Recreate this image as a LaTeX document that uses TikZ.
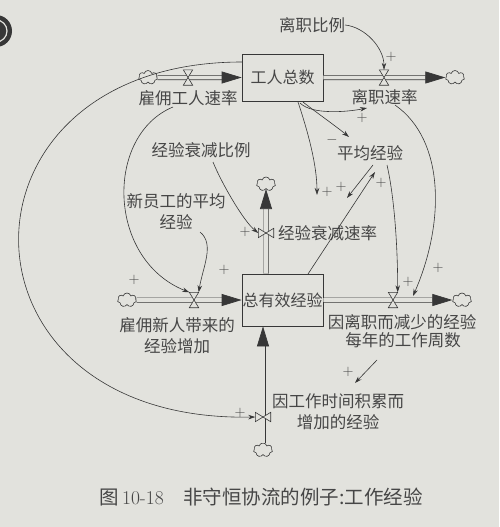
\documentclass[tikz,border=0pt]{standalone}
\usepackage{fontspec}
\newfontfamily\cjk{Noto Sans CJK SC}
\usetikzlibrary{arrows.meta,shapes.symbols}
\definecolor{paper}{RGB}{226,226,221}
\definecolor{ink}{RGB}{55,55,55}
\definecolor{txt}{RGB}{70,70,70}

\begin{document}
\begin{tikzpicture}[
  x=1pt, y=-1pt,
  stock/.style={draw=ink, line width=0.7pt, inner sep=0pt, fill=paper,
    font=\cjk\fontsize{16}{20}\selectfont, text=txt},
  lab/.style={inner sep=0pt, align=center, text=txt,
    font=\cjk\fontsize{16.5}{21}\selectfont},
  sky/.style={cloud, cloud puffs=7, cloud ignores aspect, draw=ink,
    line width=0.6pt, minimum width=19pt, minimum height=14pt, inner sep=0pt},
  valve/.style={minimum width=9pt, minimum height=15pt, inner sep=0pt},
  vvalve/.style={minimum width=15pt, minimum height=9pt, inner sep=0pt},
  pipe/.style={draw=ink, line width=0.7pt, double=paper, double distance=3.6pt,
    -{Triangle[length=20pt,width=12pt]}},
  arr/.style={draw=ink, line width=0.6pt, -{Stealth[length=7pt,width=4.5pt]}},
  sgn/.style={inner sep=0pt, text=txt, font=\fontsize{13.5}{13.5}\selectfont}
]
\useasboundingbox (0,0) rectangle (499,527);
\fill[paper] (0,0) rectangle (499,527);
\fill[ink] (-4,31) circle (16pt);
\draw[paper, line width=1.2pt] (-4,31) circle (11pt);

\node[stock, minimum width=81pt, minimum height=47pt] (workers) at (282.5,77.5) {工人总数};
\node[stock, minimum width=81pt, minimum height=52pt] (exper) at (282.5,300) {总有效经验};

\node[sky] (src1) at (148,77.5) {};
\node[sky] (snk1) at (455,77.5) {};
\node[sky] (src2) at (127,300) {};
\node[sky] (snk2) at (462,300) {};
\node[sky] (snk3) at (266,184) {};
\node[sky] (src3) at (263,450) {};

\node[valve] (hire) at (188,77.5) {};
\node[valve] (quit) at (384,77.5) {};
\node[valve] (gainhire) at (194,300) {};
\node[valve] (lossquit) at (393,300) {};
\node[vvalve] (decay) at (266,233) {};
\node[vvalve] (gainwork) at (263,417) {};

\draw[pipe] (src1) -- (workers);
\draw[pipe] (workers) -- (snk1);
\draw[pipe] (src2) -- (exper);
\draw[pipe] (exper) -- (snk2);
\draw[pipe] (exper.north -| snk3) -- (snk3);
\draw[pipe] (src3) -- (exper.south -| src3);

\foreach \v in {hire,quit,gainhire,lossquit}
  \draw[ink, line width=0.6pt, fill=paper] (\v.north west) -- (\v.north east)
    -- (\v.south west) -- (\v.south east) -- cycle;
\foreach \v in {decay,gainwork}
  \draw[ink, line width=0.6pt, fill=paper] (\v.north west) -- (\v.south west)
    -- (\v.north east) -- (\v.south east) -- cycle;

\node[lab] (hirerate) at (188,98) {雇佣工人速率};
\node[lab] (quitrate) at (384.5,97) {离职速率};
\node[lab] (quitfrac) at (312,25) {离职比例};
\node[lab] (decayfrac) at (201,150) {经验衰减比例};
\node[lab] (avgexp) at (370,153) {平均经验};
\node[lab] (newexp) at (176,212) {新员工的平均\\经验};
\node[lab] (decayrate) at (327.5,233) {经验衰减速率};
\node[lab] (hireexp) at (177,336) {雇佣新人带来的\\经验增加};
\node[lab] (lossexp) at (402,322) {因离职而减少的经验};
\node[lab] (weeks) at (403,340) {每年的工作周数};
\node[lab] (workexp) at (338,412) {因工作时间积累而\\增加的经验};

\coordinate (tipa) at (317,195);
\coordinate (tipb) at (347,198);
\coordinate (tipc) at (355,383);

\draw[arr] ([shift={(33,0)}]quitfrac.center) .. controls +(20,2) and +(0,-22) .. (quit.north);
\draw[arr] ([shift={(17.5,25.5)}]workers.center) .. controls +(12,12) and +(-20,4) .. ([shift={(-17.5,11)}]quitrate.center);
\draw[arr] ([shift={(20.5,24.5)}]workers.center) .. controls +(10,8) and +(-12,-10) .. ([shift={(-21,-16)}]avgexp.center);
\draw[arr] ([shift={(15.5,24.5)}]workers.center) .. controls +(10,30) and +(0,-30) .. (tipa);
\draw[arr] ([shift={(3,12)}]avgexp.center) -- (tipb);
\draw[arr] ([shift={(25.5,-26)}]exper.center) -- ([shift={(5,19)}]avgexp.center);
\draw[arr] ([shift={(17,12)}]avgexp.center) .. controls +(8,35) and +(0,-40) .. (lossquit.north east);
\draw[arr] ([shift={(10.5,8)}]quitrate.center) .. controls +(50,35) and +(32,-73) .. ([shift={(20,-4)}]lossquit.center);
\draw[arr] ([shift={(12,12)}]decayfrac.center) .. controls +(8,20) and +(-15,-12) .. (decay.west);
\draw[arr] ([shift={(24,20)}]newexp.center) .. controls +(15,12) and +(4,-25) .. (gainhire.north east);
\draw[arr] ([shift={(-15,9)}]hirerate.center) .. controls +(-68,28) and +(-83,-33) .. (gainhire.north west);
\draw[arr] ([shift={(-40.5,-15.5)}]workers.center) .. controls +(-300,0) and +(-312,6) .. (gainwork.west);
\draw[arr] ([shift={(-26,20)}]weeks.center) -- (tipc);

\foreach \p [count=\i] in {(391,57),(362,118),(327,192),(341,187),(381,183),(408,282),(438,268),(245,232),(224,270),(134,280),(240,413),(348,372)}
  \node[sgn] (plus\i) at \p {$+$};
\node[sgn] (minus) at (332,140) {$-$};

\node[text=txt, inner sep=0pt, font=\fontsize{19.5}{22}\selectfont] (caption) at (261,497)
  {{\cjk 图}\,10-18\quad{\cjk 非守恒协流的例子:工作经验}};
\end{tikzpicture}
\end{document}
